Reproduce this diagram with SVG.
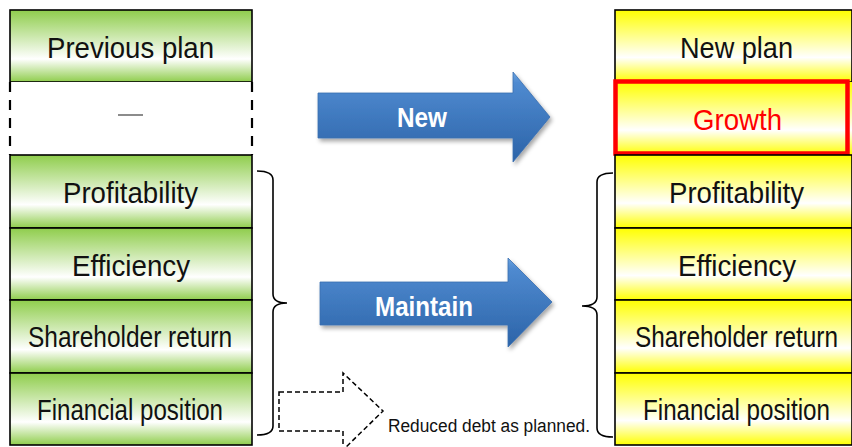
<svg xmlns="http://www.w3.org/2000/svg" width="852" height="447" viewBox="0 0 852 447">
  <defs>
    <linearGradient id="gGreen" x1="0" y1="0" x2="0" y2="1">
      <stop offset="0" stop-color="#8fcd4c"/>
      <stop offset="0.68" stop-color="#ffffff"/>
      <stop offset="1" stop-color="#8fcd4c"/>
    </linearGradient>
    <linearGradient id="gYellow" x1="0" y1="0" x2="0" y2="1">
      <stop offset="0" stop-color="#ffff00"/>
      <stop offset="0.66" stop-color="#ffffff"/>
      <stop offset="1" stop-color="#ffff00"/>
    </linearGradient>
    <linearGradient id="gBlue" x1="0" y1="0" x2="0" y2="1">
      <stop offset="0" stop-color="#6aa2df"/>
      <stop offset="0.12" stop-color="#4f8ad0"/>
      <stop offset="1" stop-color="#2b63a8"/>
    </linearGradient>
    <filter id="shadow" x="-10%" y="-20%" width="130%" height="150%">
      <feDropShadow dx="2" dy="3" stdDeviation="2" flood-color="#000" flood-opacity="0.35"/>
    </filter>
    <style>
      .cell { stroke: #000; stroke-width: 1.6; }
      .green { fill: url(#gGreen); }
      .yellow { fill: url(#gYellow); }
      .lbl { font-family: "Liberation Sans", Arial, sans-serif; font-size: 30px; fill: #111; text-anchor: start; }
      .arrowText { font-family: "Liberation Sans", Arial, sans-serif; font-weight: bold; font-size: 27px; fill: #fff; }
      .brace { fill: none; stroke: #000; stroke-width: 1.6; }
      .blueArrow { fill: url(#gBlue); stroke: #3a6fb0; stroke-width: 0.8; filter: url(#shadow); }
    </style>
  </defs>

  <!-- Previous plan column -->
  <g id="prev-plan">
    <rect class="cell green" x="10" y="10" width="242" height="72"/>
    <text class="lbl" x="47" y="58" textLength="167" lengthAdjust="spacingAndGlyphs">Previous plan</text>
  </g>
  <g id="prev-empty">
    <rect x="10" y="82" width="242" height="73" fill="#fff"/>
    <line x1="10" y1="82" x2="10" y2="155" stroke="#000" stroke-width="2.2" stroke-dasharray="10,8"/>
    <line x1="252" y1="82" x2="252" y2="155" stroke="#000" stroke-width="2.2" stroke-dasharray="10,8"/>
    <line x1="118" y1="115" x2="143" y2="115" stroke="#666" stroke-width="1.5"/>
  </g>
  <g id="prev-profitability">
    <rect class="cell green" x="10" y="155" width="242" height="73"/>
    <text class="lbl" x="63" y="203" textLength="135" lengthAdjust="spacingAndGlyphs">Profitability</text>
  </g>
  <g id="prev-efficiency">
    <rect class="cell green" x="10" y="228" width="242" height="72"/>
    <text class="lbl" x="72" y="276" textLength="118" lengthAdjust="spacingAndGlyphs">Efficiency</text>
  </g>
  <g id="prev-shareholder">
    <rect class="cell green" x="10" y="300" width="242" height="73"/>
    <text class="lbl" x="28" y="347" textLength="204" lengthAdjust="spacingAndGlyphs">Shareholder return</text>
  </g>
  <g id="prev-financial">
    <rect class="cell green" x="10" y="373" width="242" height="72"/>
    <text class="lbl" x="37" y="420" textLength="186" lengthAdjust="spacingAndGlyphs">Financial position</text>
  </g>

  <!-- New plan column (runs to the right edge) -->
  <g id="new-plan">
    <rect class="cell yellow" x="615" y="10" width="237" height="72"/>
    <text class="lbl" x="680" y="58" textLength="113" lengthAdjust="spacingAndGlyphs">New plan</text>
  </g>
  <g id="new-growth">
    <rect class="yellow" x="615" y="82" width="237" height="73"/>
    <rect x="615.5" y="81.5" width="232" height="72" fill="none" stroke="#ff0000" stroke-width="4.5"/>
    <text class="lbl" x="693" y="130" textLength="89" lengthAdjust="spacingAndGlyphs" style="fill:#ff0000">Growth</text>
  </g>
  <g id="new-profitability">
    <rect class="cell yellow" x="615" y="155" width="237" height="73"/>
    <text class="lbl" x="669" y="203" textLength="135" lengthAdjust="spacingAndGlyphs">Profitability</text>
  </g>
  <g id="new-efficiency">
    <rect class="cell yellow" x="615" y="228" width="237" height="72"/>
    <text class="lbl" x="678" y="276" textLength="118" lengthAdjust="spacingAndGlyphs">Efficiency</text>
  </g>
  <g id="new-shareholder">
    <rect class="cell yellow" x="615" y="300" width="237" height="73"/>
    <text class="lbl" x="635" y="347" textLength="203" lengthAdjust="spacingAndGlyphs">Shareholder return</text>
  </g>
  <g id="new-financial">
    <rect class="cell yellow" x="615" y="373" width="237" height="72"/>
    <text class="lbl" x="643" y="420" textLength="187" lengthAdjust="spacingAndGlyphs">Financial position</text>
  </g>

  <!-- Connectors: braces and arrows -->
  <g id="connectors">
    <path class="brace" d="M257,171 Q273,171 273,180 L273,294 Q273,303 287,303 Q273,303 273,312 L273,426 Q273,435 257,435"/>
    <path class="brace" d="M613,173 Q597,173 597,182 L597,297 Q597,306 582,306 Q597,306 597,315 L597,428 Q597,437 613,437"/>

    <g id="arrow-new">
      <path class="blueArrow" d="M318,93 L513,93 L513,72 L550,117 L513,162 L513,138 L318,138 Z"/>
      <text class="arrowText" x="397" y="127" textLength="50" lengthAdjust="spacingAndGlyphs">New</text>
    </g>
    <g id="arrow-maintain">
      <path class="blueArrow" d="M320,282 L508,282 L508,258 L552,302 L508,347 L508,325 L320,325 Z"/>
      <text class="arrowText" x="375" y="316" textLength="98" lengthAdjust="spacingAndGlyphs">Maintain</text>
    </g>
    <g id="arrow-debt">
      <path d="M279,392 L343,392 L343,373 L383,411 L343,450 L343,431 L279,431 Z" fill="none" stroke="#000" stroke-width="1.5" stroke-dasharray="5,3"/>
      <text x="388" y="432" font-family="Liberation Sans, Arial, sans-serif" font-size="18" fill="#111" textLength="202" lengthAdjust="spacingAndGlyphs">Reduced debt as planned.</text>
    </g>
  </g>
</svg>
